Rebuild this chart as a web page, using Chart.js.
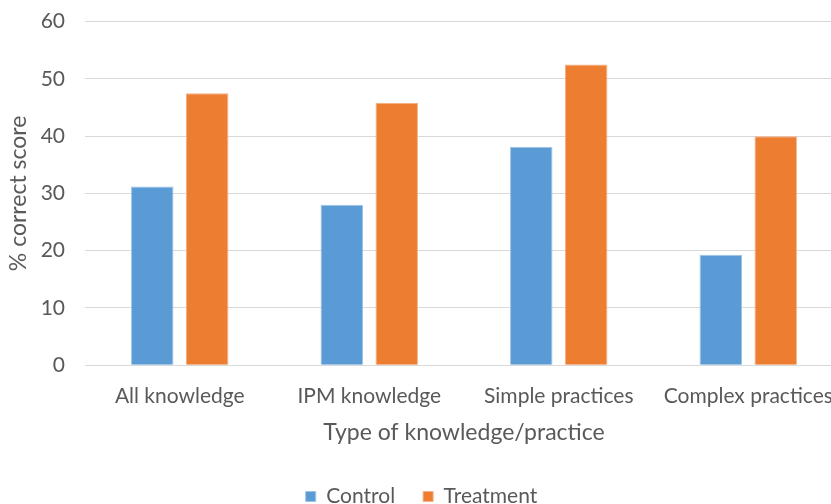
<!DOCTYPE html>
<html>
<head>
<meta charset="utf-8">
<script src="https://cdn.jsdelivr.net/npm/chart.js@4.4.1/dist/chart.umd.min.js"></script>
<style>
  html, body { margin: 0; padding: 0; background: #fff; }
  #wrap { width: 831px; height: 504px; overflow: hidden; }
  canvas { display: block; }
</style>
</head>
<body>
<div id="wrap"><canvas id="scoreChart" width="848" height="504"></canvas></div>
<script>
// ---- data ----
const categories = ["All knowledge", "IPM knowledge", "Simple practices", "Complex practices"];
const controlScores = [31.2, 28.0, 38.1, 19.3];
const treatmentScores = [47.5, 45.8, 52.5, 40.0];
const yTicks = [0, 10, 20, 30, 40, 50, 60];

const textGray = "#595959";
const fontFamily = "Lato, 'Open Sans', sans-serif";

const ctx = document.getElementById("scoreChart").getContext("2d");

new Chart(ctx, {
  type: "bar",
  data: {
    labels: categories,
    datasets: [
      {
        label: "Control",
        data: controlScores,
        backgroundColor: "#5B9BD5",
        borderColor: "#9DC3E6",
        borderWidth: 1,
        categoryPercentage: 0.58,
        barPercentage: 0.773
      },
      {
        label: "Treatment",
        data: treatmentScores,
        backgroundColor: "#ED7D31",
        borderColor: "#F4B183",
        borderWidth: 1,
        categoryPercentage: 0.58,
        barPercentage: 0.773
      }
    ]
  },
  options: {
    responsive: false,
    animation: false,
    layout: { padding: { top: 0, right: 5, left: 0, bottom: -13 } },
    plugins: {
      legend: {
        position: "bottom",
        labels: {
          color: textGray,
          font: { family: fontFamily, size: 21 },
          boxWidth: 10,
          boxHeight: 10,
          padding: 28
        }
      },
      tooltip: { enabled: false }
    },
    scales: {
      x: {
        grid: { display: false },
        border: { color: "#D9D9D9", width: 1 },
        ticks: {
          color: textGray,
          font: { family: fontFamily, size: 21 },
          maxRotation: 0,
          autoSkip: false,
          padding: 10
        },
        title: {
          display: true,
          text: "Type of knowledge/practice",
          color: textGray,
          font: { family: fontFamily, size: 23 },
          padding: { top: 0, bottom: 12 }
        }
      },
      y: {
        min: 0,
        max: 60,
        afterBuildTicks: axis => { axis.ticks = yTicks.map(v => ({ value: v })); },
        // fixed axis width so the plot starts where the gridlines begin
        afterFit: axis => { axis.width = 85; },
        // invisible tick marks give the label gap without extra top padding
        grid: { color: "#D9D9D9", lineWidth: 1, drawTicks: true, tickLength: 11, tickColor: "rgba(0,0,0,0)" },
        border: { display: false },
        ticks: {
          color: textGray,
          font: { family: fontFamily, size: 21 },
          padding: 9
        },
        title: {
          display: true,
          text: "% correct score",
          color: textGray,
          font: { family: fontFamily, size: 23 },
          padding: { top: 5, bottom: 0 }
        }
      }
    }
  }
});
</script>
</body>
</html>
